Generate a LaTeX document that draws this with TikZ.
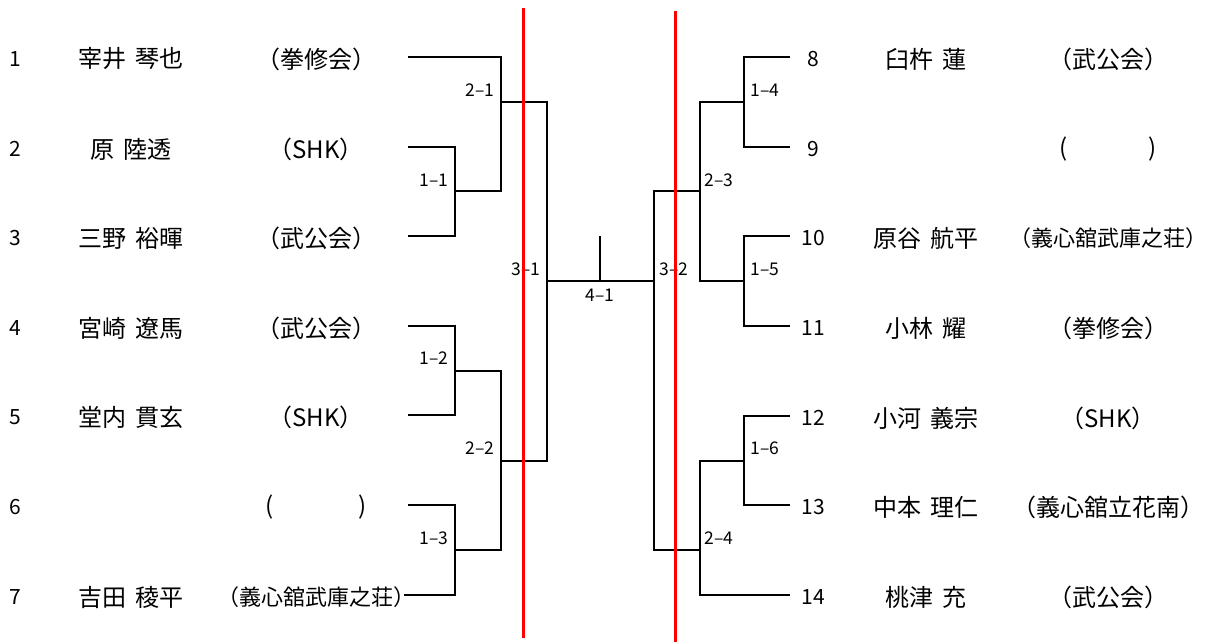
\documentclass[tikz,border=0pt]{standalone}
\usepackage{fontspec}
\setmainfont{Noto Sans CJK JP}
\newcommand{\gp}{\hspace{9pt}}
\begin{document}
\begin{tikzpicture}[x=1pt,y=-1pt,
  br/.style={line width=2pt, line cap=rect},
  redl/.style={draw=red, line width=3pt},
  num/.style={font=\fontsize{21}{21}\selectfont, inner sep=0pt},
  nm/.style={font=\fontsize{24}{24}\selectfont, inner sep=0pt},
  aff/.style={font=\fontsize{24}{24}\selectfont, inner sep=0pt},
  affs/.style={font=\fontsize{22}{22}\selectfont, inner sep=0pt},
  lab/.style={font=\fontsize{17.5}{17.5}\selectfont, inner sep=0pt}]
\useasboundingbox (0,0) rectangle (1216,642);
% ---------- left entries ----------
\foreach \i/\y/\n/\a/\s in {1/57/宰井\gp 琴也/（拳修会）/aff, 2/147/原\gp 陸透/（SHK）/aff, 3/236/三野\gp 裕暉/（武公会）/aff,
  4/326/宮崎\gp 遼馬/（武公会）/aff, 5/415/堂内\gp 貫玄/（SHK）/aff, 6/505//(\hspace{84pt})/aff, 7/595/吉田\gp 稜平/（義心舘武庫之荘）/affs}{
  \node[num] (ln\i) at (15,\y+2) {\i};
  \node[nm] (lm\i) at (131,\y+2) {\n};
  \node[\s] (la\i) at (316,\y+2) {\a};
}
% ---------- right entries ----------
\foreach \i/\y/\n/\a/\s in {8/57/臼杵\gp 蓮/（武公会）/aff, 9/147//(\hspace{80pt})/aff, 10/236/原谷\gp 航平/（義心舘武庫之荘）/affs,
  11/326/小林\gp 耀/（拳修会）/aff, 12/416/小河\gp 義宗/（SHK）/aff, 13/505/中本\gp 理仁/（義心舘立花南）/aff, 14/595/桃津\gp 充/（武公会）/aff}{
  \node[num] (rn\i) at (813,\y+2) {\i};
  \node[nm] (rm\i) at (926,\y+2) {\n};
  \node[\s] (ra\i) at (1108,\y+2) {\a};
}
% ---------- bracket coordinates ----------
\coordinate (p1) at (409,57);  \coordinate (p2) at (409,147); \coordinate (p3) at (409,236);
\coordinate (p4) at (409,326); \coordinate (p5) at (409,415); \coordinate (p6) at (409,505);
\coordinate (p7) at (405,595);
\coordinate (p8) at (789,57);  \coordinate (p9) at (789,147); \coordinate (p10) at (789,236);
\coordinate (p11) at (789,326); \coordinate (p12) at (789,416); \coordinate (p13) at (789,505);
\coordinate (p14) at (789,595);
\coordinate (m11) at (455,191); \coordinate (m12) at (455,371); \coordinate (m13) at (455,550);
\coordinate (m21) at (501,102); \coordinate (m22) at (501,461);
\coordinate (m31) at (547,281); \coordinate (m32) at (654,281);
\coordinate (top) at (600,237);
\coordinate (m14) at (744,102); \coordinate (m15) at (744,281); \coordinate (m16) at (744,461);
\coordinate (m23) at (700,191); \coordinate (m24) at (700,550);
% ---------- left bracket ----------
\draw[br] (p1) -| (m21) |- (m11);
\draw[br] (p2) -| (m11) |- (p3);
\draw[br] (p4) -| (m12) |- (p5);
\draw[br] (p6) -| (m13) |- (p7);
\draw[br] (m12) -| (m22) |- (m13);
\draw[br] (m21) -| (m31) |- (m22);
% ---------- final ----------
\draw[br] (m31) -- (m32);
\draw[br] (top) -- (top |- m31);
% ---------- right bracket ----------
\draw[br] (m23) -| (m32) |- (m24);
\draw[br] (p8) -| (m14) |- (p9);
\draw[br] (p10) -| (m15) |- (p11);
\draw[br] (p12) -| (m16) |- (p13);
\draw[br] (m14) -| (m23) |- (m15);
\draw[br] (m16) -| (m24) |- (p14);
% ---------- match labels ----------
\node[lab] (l11) at (434,180) {1–1};
\node[lab] (l12) at (434,358) {1–2};
\node[lab] (l13) at (434,538) {1–3};
\node[lab] (l21) at (480,90) {2–1};
\node[lab] (l22) at (480,448) {2–2};
\node[lab] (l31) at (526,269) {3–1};
\node[lab] (l41) at (600,295) {4–1};
\node[lab] (l32) at (674,269) {3–2};
\node[lab] (l23) at (719,180) {2–3};
\node[lab] (l24) at (719,538) {2–4};
\node[lab] (l14) at (765,90) {1–4};
\node[lab] (l15) at (765,269) {1–5};
\node[lab] (l16) at (765,448) {1–6};
% ---------- red lines ----------
\coordinate (ra) at (523,8);  \coordinate (rb) at (523,638);
\coordinate (rc) at (675,11); \coordinate (rd) at (675,642);
\draw[redl] (ra) -- (rb);
\draw[redl] (rc) -- (rd);
\end{tikzpicture}
\end{document}
